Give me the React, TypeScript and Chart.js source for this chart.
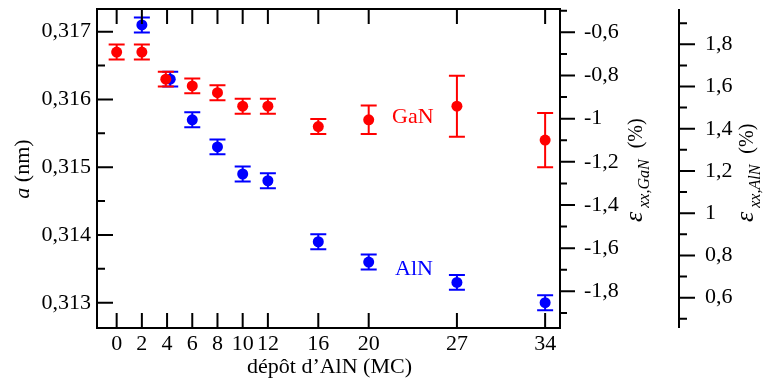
import React, { useEffect, useRef } from 'react';
import { Chart, registerables } from 'chart.js';

Chart.register(...registerables);

// ---- data ----
const xTickValues = [0, 2, 4, 6, 8, 10, 12, 16, 20, 27, 34];
const aTickValues = [0.313, 0.314, 0.315, 0.316, 0.317];
const aMinorTicks = [0.3135, 0.3145, 0.3155, 0.3165];
const ganStrainTicks = [-1.8, -1.6, -1.4, -1.2, -1, -0.8, -0.6];
const ganStrainMinor = [-1.9, -1.7, -1.5, -1.3, -1.1, -0.9, -0.7, -0.5];
const alnStrainTicks = [0.6, 0.8, 1, 1.2, 1.4, 1.6, 1.8];
const alnStrainMinor = [0.5, 0.7, 0.9, 1.1, 1.3, 1.5, 1.7, 1.9];

const ganX = [0, 2, 3.9, 6, 8, 10, 12, 16, 20, 27, 34];
const ganA = [0.3167, 0.3167, 0.3163, 0.3162, 0.3161, 0.3159, 0.3159, 0.3156, 0.3157, 0.3159, 0.3154];
const ganErr = [0.00011, 0.00011, 0.00011, 0.00011, 0.00011, 0.00011, 0.00011, 0.00011, 0.00021, 0.00045, 0.0004];

const alnX = [2, 4.25, 6, 8, 10, 12, 16, 20, 27, 34];
const alnA = [0.3171, 0.3163, 0.3157, 0.3153, 0.3149, 0.3148, 0.3139, 0.3136, 0.3133, 0.313];
const alnErr = [0.00011, 0.00011, 0.00011, 0.00011, 0.00011, 0.00011, 0.00011, 0.00011, 0.00011, 0.00011];

const RED = '#ff0000';
const BLUE = '#0000ff';
const FONT = "'Liberation Serif', 'DejaVu Serif', serif";

const fmt = (v: number, d: number) => String(Number(v.toFixed(d))).replace('.', ',');

const decor = {
  id: 'decor',
  beforeDatasetsDraw(chart: any) {
    const ctx = chart.ctx;
    const xs = chart.scales.x;
    const ys = chart.scales.yL;
    const draw = (xa: number[], ya: number[], ea: number[], color: string) => {
      ctx.save();
      ctx.strokeStyle = color;
      ctx.lineWidth = 2;
      xa.forEach((xv, i) => {
        const px = xs.getPixelForValue(xv);
        const t = ys.getPixelForValue(ya[i] + ea[i]);
        const b = ys.getPixelForValue(ya[i] - ea[i]);
        ctx.beginPath();
        ctx.moveTo(px, t);
        ctx.lineTo(px, b);
        ctx.moveTo(px - 8, t);
        ctx.lineTo(px + 8, t);
        ctx.moveTo(px - 8, b);
        ctx.lineTo(px + 8, b);
        ctx.stroke();
      });
      ctx.restore();
    };
    draw(alnX, alnA, alnErr, BLUE);
    draw(ganX, ganA, ganErr, RED);
  },
  afterDraw(chart: any) {
    const ctx = chart.ctx;
    const ca = chart.chartArea;
    const xs = chart.scales.x;
    const yL = chart.scales.yL;
    const yG = chart.scales.yG;
    const yA = chart.scales.yA;
    ctx.save();
    ctx.strokeStyle = '#000';
    ctx.lineWidth = 2;
    ctx.strokeRect(ca.left, ca.top, ca.right - ca.left, ca.bottom - ca.top);
    ctx.beginPath();
    xTickValues.forEach((v) => {
      const p = xs.getPixelForValue(v);
      ctx.moveTo(p, ca.bottom);
      ctx.lineTo(p, ca.bottom - 15);
      ctx.moveTo(p, ca.top);
      ctx.lineTo(p, ca.top + 15);
    });
    aTickValues.forEach((v) => {
      const p = yL.getPixelForValue(v);
      ctx.moveTo(ca.left, p);
      ctx.lineTo(ca.left + 16, p);
    });
    aMinorTicks.forEach((v) => {
      const p = yL.getPixelForValue(v);
      ctx.moveTo(ca.left, p);
      ctx.lineTo(ca.left + 8, p);
    });
    ganStrainTicks.forEach((v) => {
      const p = yG.getPixelForValue(v);
      ctx.moveTo(yG.left, p);
      ctx.lineTo(yG.left + 15, p);
    });
    ganStrainMinor.forEach((v) => {
      const p = yG.getPixelForValue(v);
      ctx.moveTo(yG.left, p);
      ctx.lineTo(yG.left + 7, p);
    });
    ctx.moveTo(yA.left, yA.top);
    ctx.lineTo(yA.left, yA.bottom);
    alnStrainTicks.forEach((v) => {
      const p = yA.getPixelForValue(v);
      ctx.moveTo(yA.left, p);
      ctx.lineTo(yA.left + 16, p);
    });
    alnStrainMinor.forEach((v) => {
      const p = yA.getPixelForValue(v);
      ctx.moveTo(yA.left, p);
      ctx.lineTo(yA.left + 8, p);
    });
    ctx.stroke();

    ctx.fillStyle = '#000';
    ctx.textBaseline = 'alphabetic';
    ctx.font = `22px ${FONT}`;
    ctx.textAlign = 'center';
    ctx.fillText('dépôt d\u2019AlN (MC)', (ca.left + ca.right) / 2 + 1, 373);
    ctx.textAlign = 'left';

    const rotated = (bx: number, startY: number, parts: any[], center: boolean) => {
      let total = 0;
      parts.forEach((p) => {
        ctx.font = p.font;
        total += (p.gap || 0) + ctx.measureText(p.text).width;
      });
      ctx.save();
      ctx.translate(bx, center ? startY + total / 2 : startY);
      ctx.rotate(-Math.PI / 2);
      let cx = 0;
      parts.forEach((p) => {
        ctx.font = p.font;
        cx += p.gap || 0;
        ctx.fillText(p.text, cx, p.dy || 0);
        cx += ctx.measureText(p.text).width;
      });
      ctx.restore();
    };
    rotated(29, 169, [
      { text: 'a', font: `italic 22px ${FONT}` },
      { text: ' (nm)', font: `22px ${FONT}` },
    ], true);
    rotated(642, 222, [
      { text: '\u03b5', font: `italic 26px ${FONT}` },
      { text: 'xx,GaN', font: `italic 16px ${FONT}`, dy: 7, gap: 4 },
      { text: '(%)', font: `20px ${FONT}`, gap: 11 },
    ], false);
    rotated(753, 222, [
      { text: '\u03b5', font: `italic 26px ${FONT}` },
      { text: 'xx,AlN', font: `italic 16px ${FONT}`, dy: 7, gap: 4 },
      { text: '(%)', font: `20px ${FONT}`, gap: 11 },
    ], false);

    ctx.font = `22px ${FONT}`;
    ctx.fillStyle = RED;
    ctx.fillText('GaN', 392, 123);
    ctx.fillStyle = BLUE;
    ctx.fillText('AlN', 395, 275);
    ctx.restore();
  },
};

export default function App() {
  const ref = useRef<HTMLCanvasElement>(null);
  useEffect(() => {
    if (!ref.current) return;
    const setTicks = (vals: number[]) => (scale: any) => {
      scale.ticks = vals.map((v) => ({ value: v }));
    };
    const fitTo = (w: number | null, h: number | null) => (s: any) => {
      if (w !== null) s.width = w;
      if (h !== null) s.height = h;
      s.paddingTop = 0;
      s.paddingBottom = 0;
      s.paddingLeft = 0;
      s.paddingRight = 0;
    };
    const tickFont = { family: FONT, size: 22 };
    const chart = new Chart(ref.current, {
      type: 'scatter',
      data: {
        datasets: [
          {
            label: 'GaN',
            data: ganX.map((x, i) => ({ x, y: ganA[i] })),
            backgroundColor: RED,
            borderColor: RED,
            borderWidth: 0,
            pointRadius: 5.5,
            yAxisID: 'yL',
          },
          {
            label: 'AlN',
            data: alnX.map((x, i) => ({ x, y: alnA[i] })),
            backgroundColor: BLUE,
            borderColor: BLUE,
            borderWidth: 0,
            pointRadius: 5.5,
            yAxisID: 'yL',
          },
        ],
      },
      options: {
        responsive: false,
        devicePixelRatio: 1,
        animation: false,
        events: [],
        font: { family: FONT },
        layout: { padding: { top: 9, left: 0, right: 0, bottom: 0 } },
        plugins: { legend: { display: false }, tooltip: { enabled: false } },
        scales: {
          x: {
            type: 'linear',
            position: 'bottom',
            min: -1.56,
            max: 35.18,
            afterBuildTicks: setTicks(xTickValues),
            afterFit: fitTo(null, 55),
            grid: { display: false, drawTicks: false },
            border: { display: false },
            ticks: { font: tickFont, color: '#000', padding: 3, autoSkip: false, maxRotation: 0, minRotation: 0, callback: (v: any) => String(v) },
          },
          yL: {
            type: 'linear',
            position: 'left',
            min: 0.312627,
            max: 0.317335,
            afterBuildTicks: setTicks(aTickValues),
            afterFit: fitTo(97, null),
            grid: { display: false, drawTicks: false },
            border: { display: false },
            ticks: { font: tickFont, color: '#000', padding: 6, callback: (v: any) => fmt(v, 3) },
          },
          yG: {
            type: 'linear',
            position: 'right',
            weight: 0,
            min: -1.97,
            max: -0.492,
            afterBuildTicks: setTicks(ganStrainTicks),
            afterFit: fitTo(119, null),
            grid: { display: false, drawTicks: false },
            border: { display: false },
            ticks: { font: tickFont, color: '#000', padding: 24, callback: (v: any) => fmt(v, 1) },
          },
          yA: {
            type: 'linear',
            position: 'right',
            weight: 1,
            min: 0.4565,
            max: 1.967,
            afterBuildTicks: setTicks(alnStrainTicks),
            afterFit: fitTo(88, null),
            grid: { display: false, drawTicks: false },
            border: { display: false },
            ticks: { font: tickFont, color: '#000', padding: 26, callback: (v: any) => fmt(v, 1) },
          },
        },
      },
      plugins: [decor],
    } as any);
    return () => chart.destroy();
  }, []);
  return (
    <div style={{ position: 'fixed', left: 0, top: 0, width: 767, height: 383, background: '#fff' }}>
      <canvas ref={ref} width={767} height={383} style={{ display: 'block', width: 767, height: 383 }} />
    </div>
  );
}
